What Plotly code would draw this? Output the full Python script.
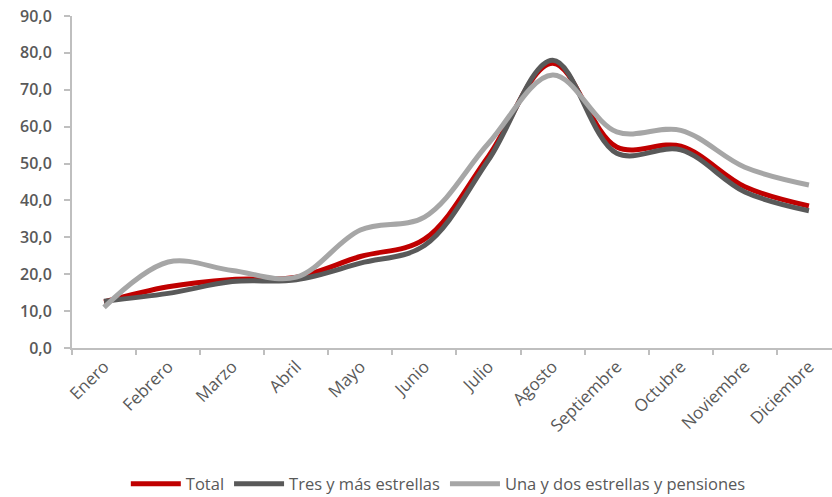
import plotly.graph_objects as go

meses = ["Enero", "Febrero", "Marzo", "Abril", "Mayo", "Junio", "Julio",
         "Agosto", "Septiembre", "Octubre", "Noviembre", "Diciembre"]
total = [12.5, 16.6, 18.6, 19.2, 24.8, 29.5, 52.0, 77.2, 54.5, 54.7, 43.7, 38.5]
tres_mas = [12.7, 14.8, 18.0, 18.5, 23.0, 27.8, 51.0, 78.0, 52.8, 53.7, 42.3, 37.2]
una_dos = [11.0, 23.3, 21.0, 19.2, 32.0, 35.5, 55.5, 74.0, 58.6, 59.0, 49.0, 44.2]

series = [
    ("Total", total, "#c00000"),
    ("Tres y más estrellas", tres_mas, "#595959"),
    ("Una y dos estrellas y pensiones", una_dos, "#a6a6a6"),
]

fig = go.Figure()
for name, vals, color in series:
    fig.add_trace(go.Scatter(x=meses, y=vals, name=name, mode="lines",
                             line=dict(color=color, width=5, shape="spline", smoothing=1.0)))

fig.update_layout(
    width=832, height=497,
    margin=dict(l=72, r=0, t=16, b=149),
    plot_bgcolor="white", paper_bgcolor="white",
    separators=",.",
    font=dict(family="Open Sans", color="#595959", size=14),
    showlegend=True,
    legend=dict(orientation="h", x=0.482, xanchor="center",
                yref="container", y=0.026, yanchor="middle",
                font=dict(size=16.5, color="#595959"), tracegroupgap=0,
                itemwidth=50),
)
fig.update_xaxes(
    type="category", range=[-0.5, 11.36], tickangle=-45, tickson="boundaries",
    showline=True, linecolor="#bfbfbf", linewidth=2, ticks="outside", ticklen=5,
    tickcolor="#bfbfbf", tickwidth=2, showgrid=False, automargin=False,
    tickfont=dict(size=17, color="#595959"),
)
fig.update_yaxes(
    range=[0, 90], dtick=10, tickformat=".1f", showline=True, linecolor="#bfbfbf",
    linewidth=2, ticks="outside", ticklen=6, tickcolor="#bfbfbf", tickwidth=2,
    showgrid=False, zeroline=False, automargin=False, ticklabelstandoff=9,
    tickfont=dict(size=16, color="#595959", weight=600),
)

fig.write_html("out.html", config={"displayModeBar": False},
               post_script="document.body.style.margin='0';")
